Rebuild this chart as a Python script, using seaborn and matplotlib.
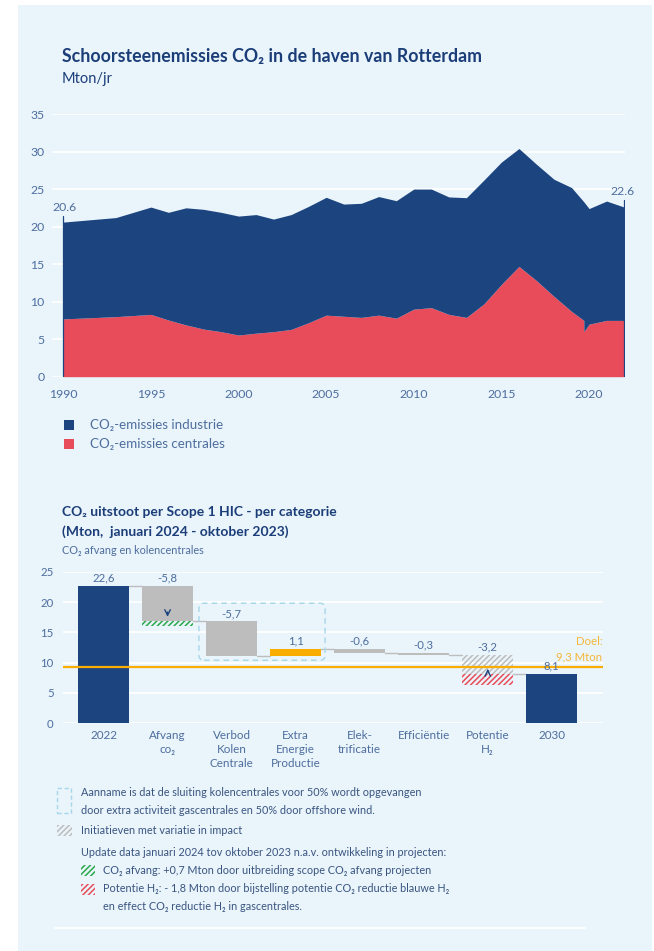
import matplotlib
matplotlib.use("Agg")
import matplotlib.pyplot as plt
from matplotlib.patches import Rectangle, FancyBboxPatch
from matplotlib.lines import Line2D
import numpy as np
import pandas as pd
import seaborn as sns

# ---------------- data ----------------
years = [1990, 1991, 1992, 1993, 1994, 1995, 1996, 1997, 1998, 1999,
         2000, 2001, 2002, 2003, 2004, 2005, 2006, 2007, 2008, 2009,
         2010, 2011, 2012, 2013, 2014, 2015, 2016, 2017, 2018, 2019,
         2019.7, 2019.7, 2020, 2021, 2022]
centrales = [7.7, 7.8, 7.9, 8.0, 8.15, 8.3, 7.55, 6.9, 6.35, 6.0,
             5.55, 5.8, 6.0, 6.3, 7.2, 8.2, 8.05, 7.9, 8.2, 7.8,
             9.0, 9.2, 8.3, 7.9, 9.7, 12.3, 14.7, 12.8, 10.7, 8.7,
             7.5, 6.0, 7.0, 7.5, 7.5]
industrie = [12.9, 13.0, 13.1, 13.2, 13.75, 14.3, 14.35, 15.6, 15.95, 15.9,
             15.85, 15.8, 15.0, 15.3, 15.5, 15.7, 14.95, 15.2, 15.8, 15.65,
             16.0, 15.8, 15.65, 15.95, 16.5, 16.3, 15.7, 15.5, 15.6, 16.5,
             15.8, 17.3, 15.4, 15.9, 15.1]
year_ticks = [1990, 1995, 2000, 2005, 2010, 2015, 2020]
first_value_label = "20.6"
last_value_label = "22.6"
series_names = ["CO₂-emissies industrie", "CO₂-emissies centrales"]

wf_categories = ["2022", "Afvang\nco₂", "Verbod\nKolen\nCentrale",
                 "Extra\nEnergie\nProductie", "Elek-\ntrificatie",
                 "Efficiëntie", "Potentie\nH₂", "2030"]
wf_values = [22.6, -5.8, -5.7, 1.1, -0.6, -0.3, -3.2, 8.1]
wf_kind = ["total", "step", "step", "step", "step", "step", "hatch", "total"]
wf_labels = ["22,6", "-5,8", "-5,7", "1,1", "-0,6", "-0,3", "-3,2", "8,1"]
target_value = 9.3
target_label = "Doel:\n9,3 Mton"
afvang_update = 0.7
h2_update = -1.8

# ---------------- style ----------------
W, H = 654, 951
BG = "#e9f4fb"
BLUE = "#1c4580"
RED = "#e84c5b"
GRAY = "#bdbdbd"
ORANGE = "#f8ad00"
GREEN = "#2aa84a"
TITLE = "#1b3d78"
TICK = "#4e6e9e"
NOTE = "#3a5580"
BOXBLUE = "#a6d6ea"
HATCH = "//////"

sns.set_style("white")
plt.rcParams["font.family"] = ["Lato", "DejaVu Sans"]
plt.rcParams["hatch.linewidth"] = 1.1


def fx(px):
    return px / W


def fy(py):
    return 1 - py / H


fig = plt.figure(figsize=(W / 100, H / 100), dpi=100)
fig.patch.set_facecolor("white")
fig.add_artist(Rectangle((fx(18), 0), (652 - 18) / W, (951 - 5) / H,
                         transform=fig.transFigure, facecolor=BG,
                         edgecolor="none", zorder=-10))

# ---------------- top chart ----------------
fig.text(fx(62), fy(57), "Schoorsteenemissies CO₂ in de haven van Rotterdam",
         fontsize=12.8, fontweight="bold", color=TITLE, va="center", ha="left")
fig.text(fx(62), fy(79), "Mton/jr", fontsize=10.5, color=TITLE,
         va="center", ha="left")

ax1 = fig.add_axes([fx(51.7), fy(376.7), (625 - 51.7) / W, (376.7 - 114) / H])
ax1.set_facecolor("none")
ax1.stackplot(years, centrales, industrie, colors=[RED, BLUE], lw=0, zorder=2)
ax1.set_xlim(1989.34, 2022.05)
ax1.set_ylim(0, 35)
ax1.set_yticks(range(0, 36, 5))
ax1.set_xticks(year_ticks)
ax1.grid(axis="y", color="white", lw=1.2)
ax1.grid(axis="x", visible=False)
ax1.set_axisbelow(True)
for s in ax1.spines.values():
    s.set_visible(False)
ax1.tick_params(axis="x", direction="inout", length=7, width=1.2, color="white",
                labelcolor=TICK, labelsize=8.8, pad=5)
ax1.tick_params(axis="y", length=0, labelcolor=TICK, labelsize=8.8, pad=5)
ax1.xaxis.set_zorder(5)

ax1.plot([years[0], years[0]], [0, 21.4], color=BLUE, lw=0.9, zorder=3)
ax1.plot([years[-1], years[-1]], [0, 23.6], color=BLUE, lw=0.9, zorder=3)
ax1.text(years[0] + 0.07, 22.5, first_value_label, fontsize=8.8, color=TICK,
         ha="center", va="center")
ax1.text(years[-1] - 0.1, 24.65, last_value_label, fontsize=8.8, color=TICK,
         ha="center", va="center")

# legend
for i, (name, col) in enumerate(zip(series_names, [BLUE, RED])):
    yc = 425 + i * 19
    fig.add_artist(Rectangle((fx(64), fy(yc + 5)), 10 / W, 10 / H,
                             transform=fig.transFigure, facecolor=col,
                             edgecolor="none"))
    fig.text(fx(90), fy(yc), name, fontsize=9.6, color=TICK, va="center", ha="left")

# ---------------- bottom chart ----------------
fig.text(fx(62), fy(512), "CO₂ uitstoot per Scope 1 HIC - per categorie",
         fontsize=10, fontweight="bold", color=TITLE, va="center", ha="left")
fig.text(fx(62), fy(532), "(Mton,  januari 2024 - oktober 2023)",
         fontsize=10, fontweight="bold", color=TITLE, va="center", ha="left")
fig.text(fx(62), fy(551), "CO₂ afvang en kolencentrales",
         fontsize=7.8, color=TICK, va="center", ha="left")

ax2 = fig.add_axes([fx(63.3), fy(723.3), (603 - 63.3) / W, (723.3 - 571.7) / H])
ax2.set_facecolor("none")

# waterfall geometry
bottoms, heights, colors, levels = [], [], [], []
level = 0.0
for v, k in zip(wf_values, wf_kind):
    if k == "total":
        bottoms.append(0.0)
        heights.append(v)
        colors.append(BLUE)
        level = v
    else:
        start, end = level, level + v
        bottoms.append(min(start, end))
        heights.append(abs(v))
        colors.append(ORANGE if v > 0 else GRAY)
        level = end
    levels.append(level)

df = pd.DataFrame({"cat": wf_categories, "height": heights, "bottom": bottoms,
                   "color": colors, "kind": wf_kind})
solid = df[df["kind"] != "hatch"]
for col, grp in solid.groupby("color", sort=False):
    sns.barplot(data=grp, x="cat", y="height", order=wf_categories,
                bottom=grp["bottom"].to_numpy(), color=col, saturation=1,
                width=0.8, errorbar=None, linewidth=0, ax=ax2, zorder=2)

# hatched parts
i_h = wf_kind.index("hatch")
ax2.bar(i_h, heights[i_h], bottom=bottoms[i_h], width=0.8, facecolor="none",
        edgecolor=GRAY, hatch=HATCH, lw=0, zorder=2)
ax2.bar(i_h, abs(h2_update), bottom=levels[i_h] + h2_update, width=0.8,
        facecolor="none", edgecolor=RED, hatch=HATCH, lw=0, zorder=2)
ax2.bar(1, afvang_update, bottom=levels[1] - afvang_update, width=0.8,
        facecolor="none", edgecolor=GREEN, hatch=HATCH, lw=0, zorder=2)

# arrows
ax2.annotate("", xy=(1, levels[1] + 0.3), xytext=(1, levels[1] + 2.0),
             arrowprops=dict(arrowstyle="->", color=BLUE, lw=1.0), zorder=4)
ax2.annotate("", xy=(i_h, levels[i_h] + 1.3), xytext=(i_h, levels[i_h] + 0.1),
             arrowprops=dict(arrowstyle="->", color=BLUE, lw=1.0), zorder=4)

# connectors
for i in range(len(wf_values) - 1):
    ax2.plot([i + 0.4, i + 0.6], [levels[i], levels[i]], color=GRAY, lw=1,
             zorder=1.5)

# value labels
for i, lab in enumerate(wf_labels):
    ax2.text(i, bottoms[i] + heights[i] + 0.4, lab, fontsize=8.2, color=TICK,
             ha="center", va="bottom", zorder=5)

# dashed box
box = FancyBboxPatch((1.49, 10.4), 1.97, 9.4,
                     boxstyle="round,pad=0,rounding_size=0.08",
                     mutation_aspect=10.5, facecolor="none",
                     edgecolor=BOXBLUE, lw=1, ls=(0, (4, 3)), zorder=1.8)
ax2.add_patch(box)

# target
ax2.axhline(target_value, color=ORANGE, lw=1.6, zorder=3)
ax2.text(7.79, target_value + 0.7, target_label, fontsize=8.2, color="#f5b73a",
         ha="right", va="bottom", linespacing=1.5)

ax2.set_xlim(-0.628, 7.80)
ax2.set_ylim(0, 25)
ax2.set_yticks(range(0, 26, 5))
ax2.set_xticks(range(len(wf_categories)))
ax2.set_xticklabels(wf_categories, linespacing=1.3)
ax2.set_xlabel("")
ax2.set_ylabel("")
ax2.grid(axis="y", color="white", lw=1.2)
ax2.grid(axis="x", visible=False)
ax2.set_axisbelow(True)
for s in ax2.spines.values():
    s.set_visible(False)
ax2.tick_params(axis="x", length=0, labelcolor=TICK, labelsize=8.4, pad=5)
ax2.tick_params(axis="y", length=0, labelcolor=TICK, labelsize=8.2, pad=7)

# ---------------- notes ----------------
fig.add_artist(Rectangle((fx(57), fy(813)), 14 / W, 25 / H,
                         transform=fig.transFigure, facecolor="none",
                         edgecolor=BOXBLUE, lw=1, ls=(0, (3, 2))))
fig.text(fx(81), fy(792),
         "Aanname is dat de sluiting kolencentrales voor 50% wordt opgevangen",
         fontsize=7.8, color=NOTE, va="center", ha="left")
fig.text(fx(81), fy(810),
         "door extra activiteit gascentrales en 50% door offshore wind.",
         fontsize=7.8, color=NOTE, va="center", ha="left")

fig.add_artist(Rectangle((fx(57), fy(836)), 15 / W, 11 / H,
                         transform=fig.transFigure, facecolor="none",
                         edgecolor=GRAY, hatch=HATCH, lw=0))
fig.text(fx(81), fy(831), "Initiatieven met variatie in impact",
         fontsize=7.8, color=NOTE, va="center", ha="left")
fig.text(fx(81), fy(852),
         "Update data januari 2024 tov oktober 2023 n.a.v. ontwikkeling in projecten:",
         fontsize=7.8, color=NOTE, va="center", ha="left")

fig.add_artist(Rectangle((fx(81), fy(876)), 14 / W, 11 / H,
                         transform=fig.transFigure, facecolor="none",
                         edgecolor=GREEN, hatch=HATCH, lw=0))
fig.text(fx(103), fy(870),
         "CO₂ afvang: +0,7 Mton door uitbreiding scope CO₂ afvang projecten",
         fontsize=7.8, color=NOTE, va="center", ha="left")
fig.add_artist(Rectangle((fx(81), fy(895)), 14 / W, 11 / H,
                         transform=fig.transFigure, facecolor="none",
                         edgecolor=RED, hatch=HATCH, lw=0))
fig.text(fx(103), fy(889),
         "Potentie H₂: - 1,8 Mton door bijstelling potentie CO₂ reductie blauwe H₂",
         fontsize=7.8, color=NOTE, va="center", ha="left")
fig.text(fx(103), fy(907), "en effect CO₂ reductie H₂ in gascentrales.",
         fontsize=7.8, color=NOTE, va="center", ha="left")

fig.add_artist(Line2D([fx(55), fx(585)], [fy(928), fy(928)],
                      transform=fig.transFigure, color="white", lw=1.2))

fig.savefig("out.png", dpi=100, facecolor=fig.get_facecolor())
